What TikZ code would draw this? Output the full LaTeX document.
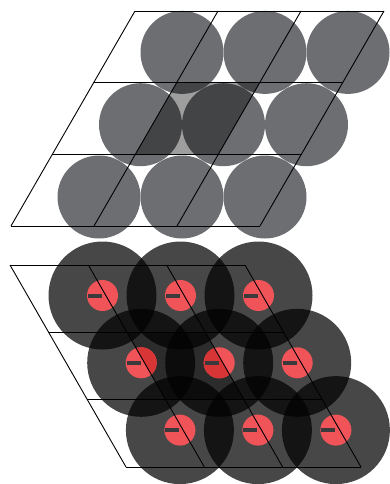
\documentclass[tikz,border=0pt]{standalone}
\usepackage{tikz}
\definecolor{topgray}{HTML}{6D6E71}
\definecolor{redlight}{HTML}{F05459}
\definecolor{reddark}{HTML}{D83636}
\definecolor{bargray}{HTML}{3A3A3C}
\tikzset{
  gridline/.style={draw=black, line width=0.9pt},
  topdisc/.style={fill=topgray},
  bigdisc/.style={fill=black, fill opacity=0.72},
  cellshade/.style={fill=black, fill opacity=0.38},
  reddisc/.style={fill=redlight},
  reddiscdark/.style={fill=reddark},
  chargebar/.style={fill=bargray}
}
\begin{document}
\begin{tikzpicture}[x=1pt,y=-1pt]
\useasboundingbox (0,0) rectangle (389,484);
% ---------- upper lattice ----------
\def\tp(#1,#2){({11+83*#1+41.33*#2},{226-71.67*#2})}
\foreach \j in {0,1,2}{
  \foreach \i in {0,1,2}{
    \fill[topdisc] ({99+83*\i+41.5*\j},{197-72.3*\j}) circle (41.5pt);
  }
}
% highlighted cell
\fill[cellshade] ({11+83*1+41.33*1},{226-71.67*1}) -- ({11+83*2+41.33*1},{226-71.67*1})
  -- ({11+83*2+41.33*2},{226-71.67*2}) -- ({11+83*1+41.33*2},{226-71.67*2}) -- cycle;
\foreach \v in {0,1,2,3}{
  \draw[gridline] ({11+41.33*\v},{226-71.67*\v}) -- ({11+249+41.33*\v},{226-71.67*\v});
}
\foreach \u in {0,1,2,3}{
  \draw[gridline] ({11+83*\u},226) -- ({11+83*\u+124},11);
}
% ---------- lower lattice ----------
\foreach \j in {0,1,2}{
  \foreach \i in {0,1,2}{
    \fill[bigdisc] ({102.5+78*\i+38.7*\j},{295.5+67.3*\j}) circle (54pt);
  }
}
\coordinate (c1) at ({10+78.33*1+38.67*1},{265+67.33*1});
\coordinate (c2) at ({10+78.33*2+38.67*1},{265+67.33*1});
\coordinate (c3) at ({10+78.33*2+38.67*2},{265+67.33*2});
\coordinate (c4) at ({10+78.33*1+38.67*2},{265+67.33*2});
\fill[cellshade] (c1) -- (c2) -- (c3) -- (c4) -- cycle;
\foreach \j in {0,1,2}{
  \foreach \i in {0,1,2}{
    \fill[reddisc] ({102.5+78*\i+38.7*\j},{295.5+67.3*\j}) circle (15.5pt);
  }
}
\begin{scope}
  \clip (c1) -- (c2) -- (c3) -- (c4) -- cycle;
  \foreach \i in {0,1,2}{
    \fill[reddiscdark] ({102.5+78*\i+38.7},{295.5+67.3}) circle (15.5pt);
  }
\end{scope}
\foreach \j in {0,1,2}{
  \foreach \i in {0,1,2}{
    \fill[chargebar] ({102.5+78*\i+38.7*\j-14.5},{295.5+67.3*\j-2}) rectangle ({102.5+78*\i+38.7*\j-0.5},{295.5+67.3*\j+2});
  }
}
\foreach \v in {0,1,2,3}{
  \draw[gridline] ({10+38.67*\v},{265+67.33*\v}) -- ({10+235+38.67*\v},{265+67.33*\v});
}
\foreach \u in {0,1,2,3}{
  \draw[gridline] ({10+78.33*\u},265) -- ({10+78.33*\u+116},467);
}
\end{tikzpicture}
\end{document}
